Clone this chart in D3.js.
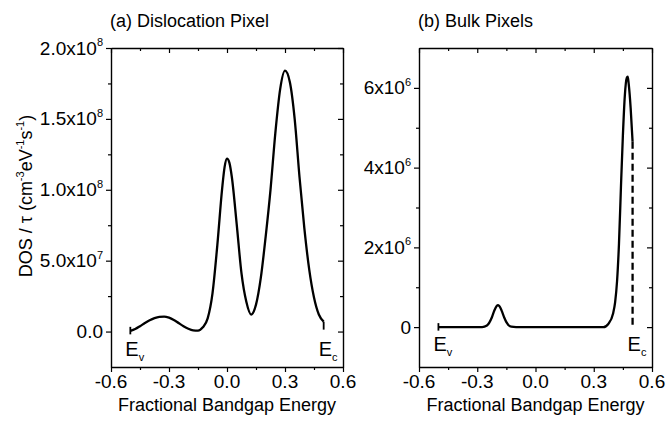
<!DOCTYPE html>
<html>
<head>
<meta charset="utf-8">
<script src="https://cdn.jsdelivr.net/npm/d3@7"></script>
<style>
  body { margin: 0; background: #fff; }
  svg { display: block; font-family: "Liberation Sans", Arial, sans-serif; }
</style>
</head>
<body>
<div id="chart"></div>
<script>
// (a) Dislocation pixel
const energyA = [-0.5, -0.475, -0.45, -0.425, -0.4, -0.375, -0.35, -0.325, -0.3, -0.275,
  -0.25, -0.225, -0.2, -0.175, -0.15, -0.125, -0.1, -0.075, -0.05, -0.025, -0.0125, 0, 0.0125,
  0.025, 0.05, 0.075, 0.1, 0.125, 0.15, 0.175, 0.2, 0.225, 0.25, 0.275, 0.3, 0.325, 0.35,
  0.375, 0.4, 0.425, 0.45, 0.475, 0.5];
const dosA = [5e5, 1.8e6, 3.8e6, 6.0e6, 8.0e6, 9.5e6, 1.04e7, 1.06e7, 9.8e6, 8.2e6,
  6.0e6, 3.8e6, 2.0e6, 9e5, 7e5, 3.0e6, 9.3e6, 2.7e7, 6.1e7, 1.01e8, 1.16e8, 1.22e8, 1.19e8,
  1.09e8, 7.6e7, 4.1e7, 2.1e7, 1.2e7, 1.9e7, 3.8e7, 6.7e7, 1.0e8, 1.4e8, 1.71e8, 1.84e8, 1.76e8, 1.5e8,
  1.09e8, 7.3e7, 4.4e7, 2.4e7, 1.2e7, 7e6];

// (b) Bulk pixels
const energyB = [-0.5, -0.4, -0.3, -0.275, -0.25, -0.225, -0.2125, -0.2, -0.1925, -0.185,
  -0.175, -0.16, -0.15, -0.125, -0.1, 0, 0.1, 0.2, 0.3, 0.35, 0.375, 0.4, 0.41, 0.42, 0.43,
  0.44, 0.45, 0.46, 0.47, 0.475, 0.48, 0.49, 0.5];
const dosB = [0, 0, 0, 0, 4e4, 2.4e5, 4.1e5, 5.3e5, 5.5e5, 5.2e5,
  4.2e5, 2.3e5, 1.25e5, 1e4, 0, 0, 0, 0, 0, 0, 8e4, 3.5e5, 6.2e5, 1.15e6, 2.1e6,
  3.5e6, 4.8e6, 5.8e6, 6.25e6, 6.28e6, 6.1e6, 5.5e6, 4.65e6];

// x axis ticks (shared)
const xMajor = [-0.6, -0.3, 0.0, 0.3, 0.6];
const xMinor = [-0.45, -0.15, 0.15, 0.45];
const xTickLabels = ["-0.6", "-0.3", "0.0", "0.3", "0.6"];

// y axis ticks, panel a
const yMajorA = [0, 5e7, 1e8, 1.5e8, 2e8];
const yMinorA = [2.5e7, 7.5e7, 1.25e8, 1.75e8];
const yTickBaseA = ["0.0", "5.0x10", "1.0x10", "1.5x10", "2.0x10"];
const yTickExpA = ["", "7", "8", "8", "8"];

// y axis ticks, panel b
const yMajorB = [0, 2e6, 4e6, 6e6];
const yMinorB = [1e6, 3e6, 5e6];
const yTickBaseB = ["0", "2x10", "4x10", "6x10"];
const yTickExpB = ["", "6", "6", "6"];

const width = 667, height = 422;
const plotTop = 48, plotBottom = 367;

const svg = d3.select("#chart").append("svg")
  .attr("width", width)
  .attr("height", height);

function drawPanel(p) {
  const x = d3.scaleLinear().domain([-0.6, 0.6]).range([p.left, p.right]);
  const y = d3.scaleLinear().domain(p.yDomain).range([plotBottom, plotTop]);
  const g = svg.append("g");

  // frame + ticks (all ticks point down/left like the original)
  const axes = [
    [d3.axisBottom(x), plotBottom, null, 5, 3],
    [d3.axisTop(x), plotTop, null, -5, -3],
    [d3.axisLeft(y), null, p.left, 5, 3],
    [d3.axisRight(y), null, p.right, -5, -3]
  ];
  axes.forEach(([ax, ty, tx, major, minor], k) => {
    const horiz = k < 2;
    const tr = horiz ? `translate(0,${ty})` : `translate(${tx},0)`;
    g.append("g").attr("transform", tr)
      .call(ax.tickValues(horiz ? xMajor : p.yMajor).tickSize(major).tickSizeOuter(0).tickFormat(""))
      .call(s => s.select(".domain").attr("stroke-width", 1.4));
    g.append("g").attr("transform", tr)
      .call(ax.tickValues(horiz ? xMinor : p.yMinor).tickSize(minor).tickSizeOuter(0).tickFormat(""))
      .call(s => s.select(".domain").remove());
  });
  g.selectAll(".tick line").attr("stroke-width", 1.2);

  // x tick labels
  g.selectAll(".xlab").data(xMajor).enter().append("text")
    .attr("x", d => x(d))
    .attr("y", plotBottom + 21)
    .attr("text-anchor", "middle")
    .attr("font-size", 19)
    .text((d, i) => xTickLabels[i]);

  // y tick labels with superscript exponent
  p.yMajor.forEach((v, i) => {
    const t = g.append("text")
      .attr("x", p.left - 8)
      .attr("y", y(v) + 6.5)
      .attr("text-anchor", "end")
      .attr("font-size", 19)
      .text(p.yBase[i]);
    if (p.yExp[i]) {
      t.append("tspan").attr("font-size", 11).attr("dy", -8.5).text(p.yExp[i]);
    }
  });

  // panel title
  g.append("text")
    .attr("x", p.left - 1)
    .attr("y", 27)
    .attr("font-size", 18)
    .text(p.title);

  // x axis title
  g.append("text")
    .attr("x", (p.left + p.right) / 2)
    .attr("y", 411)
    .attr("text-anchor", "middle")
    .attr("font-size", 18)
    .text("Fractional Bandgap Energy");

  // curve
  const pts = p.energy.map((e, i) => [e, p.dos[i]]);
  const line = d3.line()
    .x(d => x(d[0]))
    .y(d => y(d[1]))
    .curve(d3.curveMonotoneX);
  g.append("path")
    .datum(pts)
    .attr("d", line)
    .attr("fill", "none")
    .attr("stroke", "#000")
    .attr("stroke-width", 2.3);

  // band edge markers
  const first = pts[0], last = pts[pts.length - 1];
  g.append("line")
    .attr("x1", x(first[0])).attr("x2", x(first[0]))
    .attr("y1", y(first[1]) - 4).attr("y2", y(first[1]) + 3.5)
    .attr("stroke", "#000").attr("stroke-width", 1.8);
  if (p.dashedEc) {
    g.append("line")
      .attr("x1", x(last[0])).attr("x2", x(last[0]))
      .attr("y1", y(last[1])).attr("y2", y(0))
      .attr("stroke", "#000").attr("stroke-width", 2.3)
      .attr("stroke-dasharray", "7,4");
  } else {
    g.append("line")
      .attr("x1", x(last[0])).attr("x2", x(last[0]))
      .attr("y1", y(last[1])).attr("y2", y(last[1]) + 8)
      .attr("stroke", "#000").attr("stroke-width", 1.8);
  }

  // Ev / Ec labels
  [["v", first[0]], ["c", last[0]]].forEach(([sub, e]) => {
    const t = g.append("text")
      .attr("x", x(e) - 5)
      .attr("y", y(0) + 24)
      .attr("font-size", 20)
      .text("E");
    t.append("tspan").attr("font-size", 11).attr("dy", 5).text(sub);
  });
}

drawPanel({
  left: 111, right: 343, yDomain: [-2.5e7, 2.0e8],
  yMajor: yMajorA, yMinor: yMinorA, yBase: yTickBaseA, yExp: yTickExpA,
  title: "(a) Dislocation Pixel", energy: energyA, dos: dosA, dashedEc: false
});

drawPanel({
  left: 419, right: 652, yDomain: [-1e6, 7e6],
  yMajor: yMajorB, yMinor: yMinorB, yBase: yTickBaseB, yExp: yTickExpB,
  title: "(b) Bulk Pixels", energy: energyB, dos: dosB, dashedEc: true
});

// shared y axis title
const yTitle = svg.append("text")
  .attr("transform", "translate(32,196) rotate(-90)")
  .attr("text-anchor", "middle")
  .attr("font-size", 18)
  .text("DOS / \u03c4 (cm");
yTitle.append("tspan").attr("font-size", 11).attr("dy", -8).text("-3");
yTitle.append("tspan").attr("dy", 8).text("eV");
yTitle.append("tspan").attr("font-size", 11).attr("dy", -8).text("-1");
yTitle.append("tspan").attr("dy", 8).text("s");
yTitle.append("tspan").attr("font-size", 11).attr("dy", -8).text("-1");
yTitle.append("tspan").attr("dy", 8).text(")");
</script>
</body>
</html>
